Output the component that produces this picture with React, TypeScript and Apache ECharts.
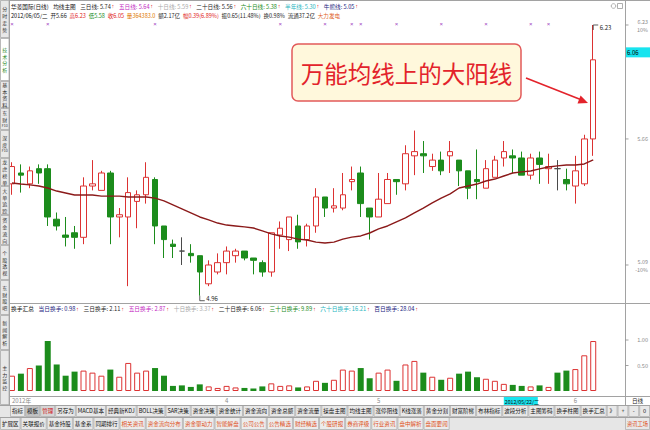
import React, { useEffect, useRef } from "react";
import * as echarts from "echarts";

const FONT = '"Noto Sans CJK SC", "Noto Sans", sans-serif';
const ARROW_FONT = '"Liberation Sans", "DejaVu Sans", sans-serif';
const UP = "#dc3232";
const DOWN = "#1c8c1c";
const ARROW = "#e02020";
const GRID_LINE = "#a2a2a2";

// trading days on the daily chart
const dates = [
  "2012/02/28", "2012/02/29",
  "2012/03/01", "2012/03/02", "2012/03/05", "2012/03/06", "2012/03/07", "2012/03/08", "2012/03/09",
  "2012/03/12", "2012/03/13", "2012/03/14", "2012/03/15", "2012/03/16",
  "2012/03/19", "2012/03/20", "2012/03/21", "2012/03/22", "2012/03/23",
  "2012/03/26", "2012/03/27", "2012/03/28", "2012/03/29", "2012/03/30",
  "2012/04/05", "2012/04/06",
  "2012/04/09", "2012/04/10", "2012/04/11", "2012/04/12", "2012/04/13",
  "2012/04/16", "2012/04/17", "2012/04/18", "2012/04/19", "2012/04/20",
  "2012/04/23", "2012/04/24", "2012/04/25", "2012/04/26", "2012/04/27",
  "2012/05/02", "2012/05/03", "2012/05/04",
  "2012/05/07", "2012/05/08", "2012/05/09", "2012/05/10", "2012/05/11",
  "2012/05/14", "2012/05/15", "2012/05/16", "2012/05/17", "2012/05/18",
  "2012/05/21", "2012/05/22", "2012/05/23", "2012/05/24", "2012/05/25",
  "2012/05/28", "2012/05/29", "2012/05/30", "2012/05/31",
  "2012/06/01", "2012/06/04", "2012/06/05",
];

const opens = [
  5.45, 5.50, 5.45, 5.52, 5.52, 5.29, 5.22, 5.23, 5.21, 5.44,
  5.42, 5.50, 5.30, 5.30, 5.37, 5.40, 5.47, 5.26, 5.18, 5.15,
  5.14, 5.13, 5.01, 5.06, 5.10, 5.13, 5.15, 5.12, 5.10, 5.06,
  5.22, 5.20, 5.26, 5.20, 5.26, 5.39, 5.34, 5.34, 5.46, 5.50,
  5.34, 5.30, 5.36, 5.47, 5.45, 5.58, 5.59, 5.53, 5.56, 5.58,
  5.56, 5.51, 5.47, 5.43, 5.48, 5.57, 5.58, 5.57, 5.49, 5.57,
  5.52, 5.52, 5.47, 5.44, 5.45, 5.66,
];
const closes = [
  5.53, 5.49, 5.51, 5.50, 5.30, 5.26, 5.21, 5.21, 5.44, 5.45,
  5.50, 5.30, 5.31, 5.41, 5.40, 5.48, 5.26, 5.20, 5.17, 5.15,
  5.13, 5.06, 5.09, 5.10, 5.15, 5.15, 5.12, 5.11, 5.06, 5.23,
  5.25, 5.30, 5.19, 5.26, 5.39, 5.34, 5.35, 5.40, 5.47, 5.36,
  5.30, 5.38, 5.47, 5.46, 5.59, 5.60, 5.58, 5.56, 5.51, 5.60,
  5.51, 5.43, 5.46, 5.52, 5.56, 5.60, 5.57, 5.49, 5.57, 5.54,
  5.53, 5.52, 5.45, 5.51, 5.66, 6.05,
];
const lows = [
  5.40, 5.41, 5.43, 5.45, 5.26, 5.24, 5.17, 5.16, 5.18, 5.42,
  5.42, 5.18, 5.21, 5.00, 5.25, 5.36, 5.18, 5.12, 5.12, 5.09,
  5.10, 4.96, 5.00, 5.05, 5.05, 5.10, 5.11, 5.05, 5.04, 5.04,
  5.16, 5.15, 5.16, 5.17, 5.23, 5.30, 5.32, 5.33, 5.42, 5.30,
  5.20, 5.30, 5.36, 5.40, 5.42, 5.49, 5.50, 5.51, 5.49, 5.50,
  5.44, 5.38, 5.38, 5.43, 5.48, 5.53, 5.50, 5.49, 5.47, 5.45,
  5.45, 5.42, 5.42, 5.36, 5.44, 5.58,
];
const highs = [
  5.55, 5.54, 5.53, 5.54, 5.54, 5.32, 5.30, 5.26, 5.48, 5.56,
  5.51, 5.51, 5.34, 5.48, 5.42, 5.55, 5.48, 5.26, 5.20, 5.21,
  5.18, 5.13, 5.11, 5.14, 5.17, 5.16, 5.15, 5.12, 5.11, 5.23,
  5.28, 5.30, 5.31, 5.27, 5.43, 5.39, 5.43, 5.50, 5.53, 5.53,
  5.34, 5.50, 5.50, 5.47, 5.63, 5.70, 5.65, 5.59, 5.60, 5.65,
  5.56, 5.51, 5.61, 5.56, 5.58, 5.65, 5.61, 5.60, 5.59, 5.60,
  5.59, 5.56, 5.52, 5.58, 5.68, 6.23,
];
const ma20 = [
  5.454, 5.449, 5.445, 5.440, 5.431, 5.417, 5.408, 5.399, 5.399, 5.399,
  5.394, 5.394, 5.394, 5.390, 5.390, 5.390, 5.385, 5.372, 5.354, 5.336,
  5.318, 5.300, 5.287, 5.273, 5.264, 5.260, 5.256, 5.251, 5.238, 5.225,
  5.216, 5.211, 5.202, 5.198, 5.189, 5.185, 5.189, 5.202, 5.211, 5.216,
  5.229, 5.247, 5.260, 5.278, 5.296, 5.318, 5.340, 5.363, 5.385, 5.404,
  5.431, 5.440, 5.449, 5.463, 5.472, 5.486, 5.500, 5.505, 5.509, 5.519,
  5.528, 5.533, 5.537, 5.537, 5.542, 5.561,
];
// daily turnover rate, %
const turnover = [
  0.30, 0.34, 0.45, 0.50, 0.98, 0.52,
  0.30, 0.38, 0.40, 0.36, 0.30, 0.42, 0.28, 0.55, 0.36, 0.40, 0.45, 0.30,
  0.10, 0.11, 0.08, 0.13, 0.09, 0.06, 0.10, 0.07, 0.06, 0.05, 0.09, 0.15, 0.10, 0.11, 0.07, 0.09, 0.20, 0.16,
  0.22, 0.42, 0.40, 0.45, 0.25, 0.36, 0.42, 0.20, 0.52, 0.59,
  0.36, 0.28, 0.22, 0.26, 0.34, 0.38, 0.27, 0.24, 0.20, 0.14,
  0.12, 0.10, 0.09, 0.11, 0.08,
  0.36, 0.40,
  0.43, 0.70,
  0.98,
];

// header legends
const stockTitle = "华菱国际(日线)";
const templateName = "均线主图";
const maNames = ["三日线", "五日线", "十日线", "二十日线", "六十日线", "半年线", "牛熊线"];
const maValues = ["5.74", "5.64", "5.59", "5.56", "5.38", "5.30", "5.05"];
const maColors = ["#1e1e1e", "#c21fc2", "#a9a9a9", "#1e1e1e", "#1c8c1c", "#1fb5c0", "#1a237e"];
const quoteDay = "2012/06/05/二";
const quoteItems = ["开5.66", "高6.23", "低5.58", "收6.05", "量364383.0", "额2.17亿", "幅0.39(6.89%)", "振0.65(11.48%)", "换0.98%", "流通37.2亿", "大力发电"];
const quoteColors = ["#1e1e1e", "#e02020", "#1c8c1c", "#e02020", "#e07800", "#1e1e1e", "#e02020", "#1e1e1e", "#1e1e1e", "#1e1e1e", "#e0601e"];
const turnoverTitle = "换手汇总";
const turnoverNames = ["当日换手", "三日换手", "五日换手", "十日换手", "二十日换手", "三十日换手", "六十日换手", "百日换手"];
const turnoverSums = ["0.98", "2.11", "2.87", "3.37", "6.06", "9.89", "16.21", "28.04"];
const turnoverColors = ["#1a237e", "#1e1e1e", "#c21fc2", "#a9a9a9", "#1e1e1e", "#1c8c1c", "#1fb5c0", "#1a237e"];

const mineDates = ["2012/02/28", "2012/03/05", "2012/03/21", "2012/04/13", "2012/04/20", "2012/04/25", "2012/04/26", "2012/05/04", "2012/05/11", "2012/05/18", "2012/05/25", "2012/05/29"];
const priceTicks = [6.23, 5.66, 5.09];
const priceTickPct = ["10%", "", "-10%"];
const volumeTicks = [1, 0.5];
const lastPrice = 6.06;
const cursorDate = "2012/05/22";
const cursorWeekday = "二";
const callout = "万能均线上的大阳线";

const sideTabs = ["分时走势", "技术分析", "基本资料", "东财F10", "深度F10", "龙虎榜单", "大单追踪", "资金流向", "个股透视", "东财股吧", "新闻解析", "主力监控"];
const toolTabs = ["指标", "模板", "管理", "另存为", "MACD基本", "经典新KDJ", "BOLL决策", "SAR决策", "资金决策", "资金统计", "资金流向", "资金总额", "资金流量", "操盘主图", "均线主图", "涨停阻线", "K线涨落", "黄金分割", "财富阶梯", "布林指标", "波段分析", "主图筹码", "换手柱图", "换手汇总"];
const infoTabs = ["扩展区", "关联报价", "基金持股", "基金系", "同期排行", "相关资讯", "资金流向分布", "资金驱动力", "智能解盘", "公司公告", "公告精选", "财经精选", "个股研报", "券商评级", "行业资讯", "盘中解析", "盘面要闻"];
const toolButtons = ["》", "+", "-", "0"];

// ---------- helpers ----------
let measureCtx: CanvasRenderingContext2D | null = null;
function measure(text: string, size: number, family = FONT): number {
  if (!measureCtx) measureCtx = document.createElement("canvas").getContext("2d");
  measureCtx!.font = `${size}px ${family}`;
  return measureCtx!.measureText(text).width;
}

function txt(x: number, y: number, text: string, size: number, fill: string, align = "left", family = FONT, extra: any = {}) {
  return {
    type: "text",
    x,
    y,
    z: 60,
    silent: true,
    style: {
      text,
      fill,
      fontSize: size,
      fontFamily: family,
      align,
      verticalAlign: "middle",
      textAlign: align,
      textVerticalAlign: "middle",
      ...extra,
    },
  };
}
function seg(x1: number, y1: number, x2: number, y2: number, stroke = GRID_LINE, lineWidth = 1, z = 40) {
  return { type: "line", z, silent: true, shape: { x1, y1, x2, y2 }, style: { stroke, lineWidth } };
}
function box(x: number, y: number, width: number, height: number, fill: string, stroke?: string, lineWidth = 1, r = 0, z = 30) {
  return {
    type: "rect",
    z,
    silent: true,
    shape: { x, y, width, height, r },
    style: { fill, stroke: stroke ?? "none", lineWidth: stroke ? lineWidth : 0 },
  };
}

type Seg = { t: string; c: string; g: number; f?: string };
// lays text runs out left to right so that they span x0..x1
function flowRow(segs: Seg[], x0: number, x1: number, y: number) {
  const base = 10;
  const w = segs.map((s) => measure(s.t, base, s.f ?? FONT));
  const natural = w.reduce((a, b) => a + b, 0) + segs.reduce((a, s, i) => a + (i ? s.g : 0), 0) * base;
  const size = (base * (x1 - x0)) / natural;
  let x = x0;
  return segs.map((s, i) => {
    if (i) x += s.g * size;
    const el = txt(x, y, s.t, size, s.c, "left", s.f ?? FONT);
    x += (w[i] * size) / base;
    return el;
  });
}
function legendSegs(names: string[], values: string[], colors: string[], sep: number): Seg[] {
  return names.flatMap((n, k) => [
    { t: `${n}: ${values[k]}`, c: colors[k], g: sep },
    { t: "↑", c: ARROW, g: 0.12, f: ARROW_FONT },
  ]);
}

function cellRow(labels: string[], x0: number, y0: number, h: number, size: number, pad: number, look: (i: number) => { fill: string; color: string }) {
  let x = x0;
  const els: any[] = [];
  labels.forEach((l, i) => {
    const w = measure(l, size) + pad;
    const { fill, color } = look(i);
    els.push(box(x + 0.5, y0 + 0.5, w - 1, h - 1, fill, "#a9a9a9", 0.7));
    els.push(txt(x + w / 2, y0 + h / 2 + 0.3, l, size, color, "center"));
    x += w;
  });
  return { els, end: x };
}

const isUp = (i: number) =>
  closes[i] > opens[i] || (closes[i] === opens[i] && i > 0 && closes[i] >= closes[i - 1]);

const monthStart = dates.map((d, i) => i === 0 || d.slice(5, 7) !== dates[i - 1].slice(5, 7));

function buildOption(): any {
  return {
    animation: false,
    backgroundColor: "#ffffff",
    textStyle: { fontFamily: FONT },
    grid: [
      { left: 7.5, right: 52.3, top: 11.73, height: 298.43 },
      { left: 7.5, right: 52.3, top: 329.8, height: 61.2 },
    ],
    xAxis: [
      { type: "category", gridIndex: 0, data: dates, boundaryGap: true, show: false },
      {
        type: "category",
        gridIndex: 1,
        data: dates,
        boundaryGap: true,
        axisLine: { show: false },
        axisTick: { show: false },
        axisLabel: {
          interval: (i: number) => i === 0 || (monthStart[i] && i > 4),
          formatter: (v: string, i: number) => (i === 0 ? `${v.slice(0, 4)}年` : String(Number(v.slice(5, 7)))),
          fontSize: 6,
          color: "#8a8a8a",
          margin: 6.5,
          alignMinLabel: "left",
          fontFamily: FONT,
        },
      },
    ],
    yAxis: [
      { type: "log", logBase: 10, gridIndex: 0, min: 4.9, max: 6.3, show: false },
      { type: "value", gridIndex: 1, min: 0, max: 1.2, show: false },
    ],
    series: [
      {
        type: "candlestick",
        name: "日K",
        xAxisIndex: 0,
        yAxisIndex: 0,
        barWidth: 6,
        data: dates.map((_, i) => [opens[i], closes[i], lows[i], highs[i]]),
        itemStyle: {
          color: "#ffffff",
          color0: DOWN,
          borderColor: UP,
          borderColor0: DOWN,
          borderColorDoji: "#4a4a4a",
          borderWidth: 1,
        },
        markPoint: {
          silent: true,
          symbolKeepAspect: false,
          itemStyle: { color: "transparent", borderColor: "#333333", borderWidth: 0.8 },
          label: {
            show: true,
            position: "right",
            distance: 1,
            fontSize: 6,
            color: "#222222",
            fontFamily: FONT,
            formatter: (p: any) => Number(p.value).toFixed(2),
          },
          data: [
            {
              coord: [21, lows[21]],
              value: lows[21],
              symbol: "path://M0,0 L0,5 L5,5",
              symbolSize: [5, 5],
              symbolOffset: [2.5, 2.5],
            },
            {
              coord: [65, highs[65]],
              value: highs[65],
              symbol: "path://M0,5 L0,0 L5,0",
              symbolSize: [5, 5],
              symbolOffset: [2.5, 2.5],
            },
          ],
        },
      },
      {
        type: "line",
        name: "二十日线",
        xAxisIndex: 0,
        yAxisIndex: 0,
        data: ma20,
        symbol: "none",
        z: 3,
        lineStyle: { color: "#8b1a1a", width: 1.4 },
      },
      {
        type: "bar",
        name: "换手",
        xAxisIndex: 1,
        yAxisIndex: 1,
        barWidth: 6,
        data: turnover.map((v, i) => ({
          value: v,
          itemStyle: isUp(i) ? { color: "#ffffff", borderColor: UP, borderWidth: 1 } : { color: DOWN },
        })),
      },
    ],
  };
}

function buildGraphics(chart: echarts.ECharts): any[] {
  const px = (i: number) => chart.convertToPixel({ xAxisIndex: 0 }, i) as unknown as number;
  const py = (v: number) => chart.convertToPixel({ yAxisIndex: 0 }, v) as unknown as number;
  const vy = (v: number) => chart.convertToPixel({ yAxisIndex: 1 }, v) as unknown as number;
  const els: any[] = [];

  // backgrounds
  els.push(box(0, 0, 10, 417, "#ececec", undefined, 0, 0, 20));
  els.push(box(0, 405, 650, 25, "#e6e6e6", undefined, 0, 0, 20));

  // side tabs, one glyph per line
  const breaks = [0, 38, 81, 108, 130, 158, 186, 215, 245, 280, 315, 350, 405];
  const step = 6.7;
  sideTabs.forEach((name, k) => {
    const top = breaks[k];
    const bottom = breaks[k + 1];
    const active = k === 1;
    els.push(box(0.5, top + 0.5, 8.5, bottom - top - 1, active ? "#ffffff" : "#e8e8e8", "#a0a0a0", 0.7, 0, 25));
    const tokens = name.match(/[A-Za-z0-9]+|./g) || [];
    const first = (top + bottom) / 2 - ((tokens.length - 1) * step) / 2;
    tokens.forEach((tk, j) => {
      const size = tk.length > 1 ? 3.6 : 5;
      els.push(txt(4.8, first + j * step, tk, size, active ? "#2a8a2a" : "#303030", "center"));
    });
  });

  // frame lines
  els.push(seg(10, 0.5, 650, 0.5));
  els.push(seg(9.5, 0, 9.5, 405));
  els.push(seg(625.5, 0, 625.5, 405));
  els.push(seg(10, 303.5, 650, 303.5));
  els.push(seg(10, 396.5, 650, 396.5));
  els.push(seg(0, 405.5, 650, 405.5));
  els.push(seg(0, 417.5, 650, 417.5));

  // header lines
  els.push(
    ...flowRow(
      [
        { t: stockTitle, c: "#101010", g: 0 },
        { t: templateName, c: "#101010", g: 0.8 },
        ...legendSegs(maNames, maValues, maColors, 0.8),
      ],
      11,
      358,
      6
    )
  );
  els.push(
    ...flowRow(
      [{ t: quoteDay, c: "#101010", g: 0 }, ...quoteItems.map((q, k) => ({ t: q, c: quoteColors[k], g: 0.5 }))],
      11,
      340,
      15.5
    )
  );
  mineDates.forEach((d) => {
    els.push(txt(px(dates.indexOf(d)), 24, "×", 6, "#a040c0", "center", ARROW_FONT));
  });

  // window icons
  els.push({ type: "circle", z: 60, silent: true, shape: { cx: 613.5, cy: 6, r: 2.3 }, style: { fill: "none", stroke: "#9a9a9a", lineWidth: 0.8 } });
  els.push(box(617.5, 3.5, 5, 5, "none", "#9a9a9a", 0.8, 0, 60));

  // price axis marks
  priceTicks.forEach((v, k) => {
    const y = py(v);
    els.push(seg(625.5, y, 628.5, y, "#8a8a8a", 0.8));
    if (priceTickPct[k]) {
      els.push(txt(648, y - 2.8, v.toFixed(2), 5.4, "#8a8a8a", "right"));
      els.push(txt(648, y + 4.6, priceTickPct[k], 5.4, "#8a8a8a", "right"));
    } else {
      els.push(txt(648, y, v.toFixed(2), 5.6, "#8a8a8a", "right"));
    }
  });
  const yl = py(lastPrice);
  els.push(box(626, yl - 10.5, 24, 10, "#18e4ef", undefined, 0, 0, 50));
  els.push(txt(627, yl - 5.5, lastPrice.toFixed(2), 6, "#000000", "left"));

  // call-out box with arrow
  els.push(box(292, 44, 229, 57, "#fff8dc", "#e25a5a", 1.5, 6, 70));
  els.push({ ...txt(406.5, 73, callout, 23.5, "#e3232b", "center"), z: 72 });
  const tip = [588, 103];
  els.push(seg(526, 78, 580.5, 99.6, "#e3232b", 1.6, 72));
  els.push({
    type: "polygon",
    z: 72,
    silent: true,
    shape: { points: [tip, [577.5, 103.5], [580.6, 95.5]] },
    style: { fill: "#e3232b" },
  });

  // turnover panel
  els.push(
    ...flowRow(
      [{ t: turnoverTitle, c: "#101010", g: 0 }, ...legendSegs(turnoverNames, turnoverSums, turnoverColors, 0.8)],
      11,
      418,
      308.5
    )
  );
  volumeTicks.forEach((v) => {
    const y = vy(v);
    els.push(seg(625.5, y, 628.5, y, "#8a8a8a", 0.8));
    els.push(txt(648, y, v.toFixed(2), 5.6, "#8a8a8a", "right"));
  });

  // date band
  const cx = px(dates.indexOf(cursorDate));
  els.push(box(cx, 397, 34, 8, "#18e4ef", undefined, 0, 0, 50));
  els.push(txt(cx + 1, 401.2, `${cursorDate}/${cursorWeekday}`, 5.2, "#101010", "left"));
  els.push(txt(637.5, 401.2, "日线", 5.6, "#202020", "center"));

  // tool tab rows
  const pad = 4;
  const base = 10;
  const natural = toolTabs.reduce((a, l) => a + measure(l, base), 0);
  const tabSize = (base * (608 - 10 - pad * toolTabs.length)) / natural;
  const r1 = cellRow(toolTabs, 10, 405, 12, tabSize, pad, (i) =>
    i === 1 ? { fill: "#c4c4c4", color: "#101010" } : i === 2 ? { fill: "#d6d6d6", color: "#d01818" } : { fill: "#e8e8e8", color: "#101010" }
  );
  els.push(...r1.els);
  toolButtons.forEach((b, k) => {
    const w = (650 - r1.end) / toolButtons.length;
    const x = r1.end + k * w;
    els.push(box(x + 0.5, 405.5, w - 1, 11, "#e8e8e8", "#a9a9a9", 0.7));
    els.push(txt(x + w / 2, 411.3, b, tabSize, "#101010", "center"));
  });
  const r2 = cellRow(infoTabs, 0, 417, 13, tabSize, pad, (i) =>
    i < 5 ? { fill: "#e8e8e8", color: "#101010" } : { fill: "#ececec", color: "#e0501a" }
  );
  els.push(...r2.els);
  els.push(box(625.5, 417.5, 24, 12, "#e8e8e8", "#a9a9a9", 0.7));
  els.push(txt(637.5, 423.8, "资讯工场", tabSize * 0.95, "#e0501a", "center"));

  return els;
}

export default function App() {
  const ref = useRef<HTMLDivElement>(null);
  useEffect(() => {
    if (!ref.current) return;
    const chart = echarts.init(ref.current, undefined, { renderer: "svg" });
    chart.setOption(buildOption());
    chart.setOption({ graphic: buildGraphics(chart) });
    return () => chart.dispose();
  }, []);
  return <div ref={ref} style={{ position: "absolute", left: 0, top: 0, width: 650, height: 430 }} />;
}
